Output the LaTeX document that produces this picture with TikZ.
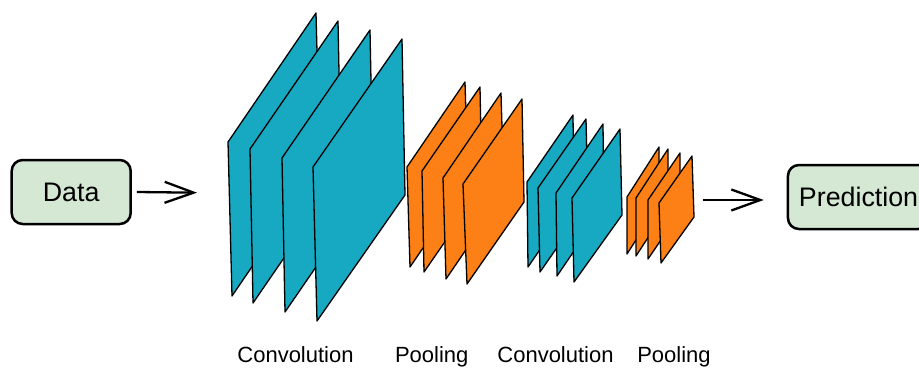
\documentclass[tikz,border=0pt]{standalone}
\usepackage{fontspec}
\setmainfont{Liberation Sans}
\usetikzlibrary{arrows.meta}
\definecolor{convblue}{RGB}{23,169,193}
\definecolor{poolorange}{RGB}{253,128,22}
\definecolor{boxgreen}{RGB}{213,232,212}
\begin{document}
\begin{tikzpicture}[x=1pt,y=-1pt,
  sheet/.style={draw=black, line width=1.3pt, line join=round},
  conv/.style={sheet, fill=convblue},
  pool/.style={sheet, fill=poolorange},
  endbox/.style={draw=black, line width=2.5pt, fill=boxgreen, rounded corners=11pt,
    minimum height=64pt, font=\fontsize{26.8}{30}\selectfont, inner sep=0pt},
  arr/.style={line width=2.3pt, -{Straight Barb[length=29pt, width=21pt, line width=2.3pt]}},
  lab/.style={font=\fontsize{22}{26}\selectfont, anchor=base}
]
\useasboundingbox (0,0) rectangle (919,369);
\clip (0,0) rectangle (919,369);

% input and output boxes
\node[endbox, minimum width=119pt] (data) at (71.2,192) {Data};
\node[endbox, anchor=west, inner xsep=11pt] (pred) at (786.7,197) {Prediction};

% first convolution stack
\draw[conv] (228,142) -- (316,13) -- (320,167) -- (232,296) -- cycle;
\draw[conv] (250,149) -- (338,21) -- (341,175) -- (253,303) -- cycle;
\draw[conv] (282,158) -- (370,30) -- (373,184) -- (285,312) -- cycle;
\draw[conv] (313,167) -- (402,39) -- (405,195) -- (317,321) -- cycle;

% first pooling stack
\draw[pool] (407,167) -- (465,82) -- (468,182) -- (410,267) -- cycle;
\draw[pool] (422,171) -- (480,87) -- (482,188) -- (424,272) -- cycle;
\draw[pool] (443,178) -- (501,93) -- (504,194) -- (446,279) -- cycle;
\draw[pool] (463,184) -- (522,99) -- (524,202) -- (467,284) -- cycle;

% second convolution stack
\draw[conv] (527,182) -- (573,115) -- (574,200) -- (528,267) -- cycle;
\draw[conv] (538,188) -- (586,119) -- (588,203) -- (540,272) -- cycle;
\draw[conv] (556,193) -- (603,124) -- (604,207) -- (557,276) -- cycle;
\draw[conv] (572,198) -- (620,129) -- (622,215) -- (574,282) -- cycle;

% second pooling stack
\draw[pool] (627,197) -- (659,147) -- (659,204) -- (627,254) -- cycle;
\draw[pool] (636,198) -- (668,149) -- (668,207) -- (636,256) -- cycle;
\draw[pool] (648,200) -- (680,153) -- (680,212) -- (648,259) -- cycle;
\draw[pool] (659,203) -- (692,156) -- (694,217) -- (661,263) -- cycle;

% arrows in and out of the network
\coordinate (netin) at (197,192.7);
\coordinate (netout) at (703,200);
\draw[arr] ([xshift=5pt]data.east) -- (netin);
\draw[arr, shorten >=23pt] (netout) -- (netout -| pred.west);

% stage labels
\node[lab] (convA) at (295.5,362) {Convolution};
\node[lab] (poolA) at (431.7,362) {Pooling};
\node[lab] (convB) at (555.5,362) {Convolution};
\node[lab] (poolB) at (674,362) {Pooling};
\end{tikzpicture}
\end{document}
